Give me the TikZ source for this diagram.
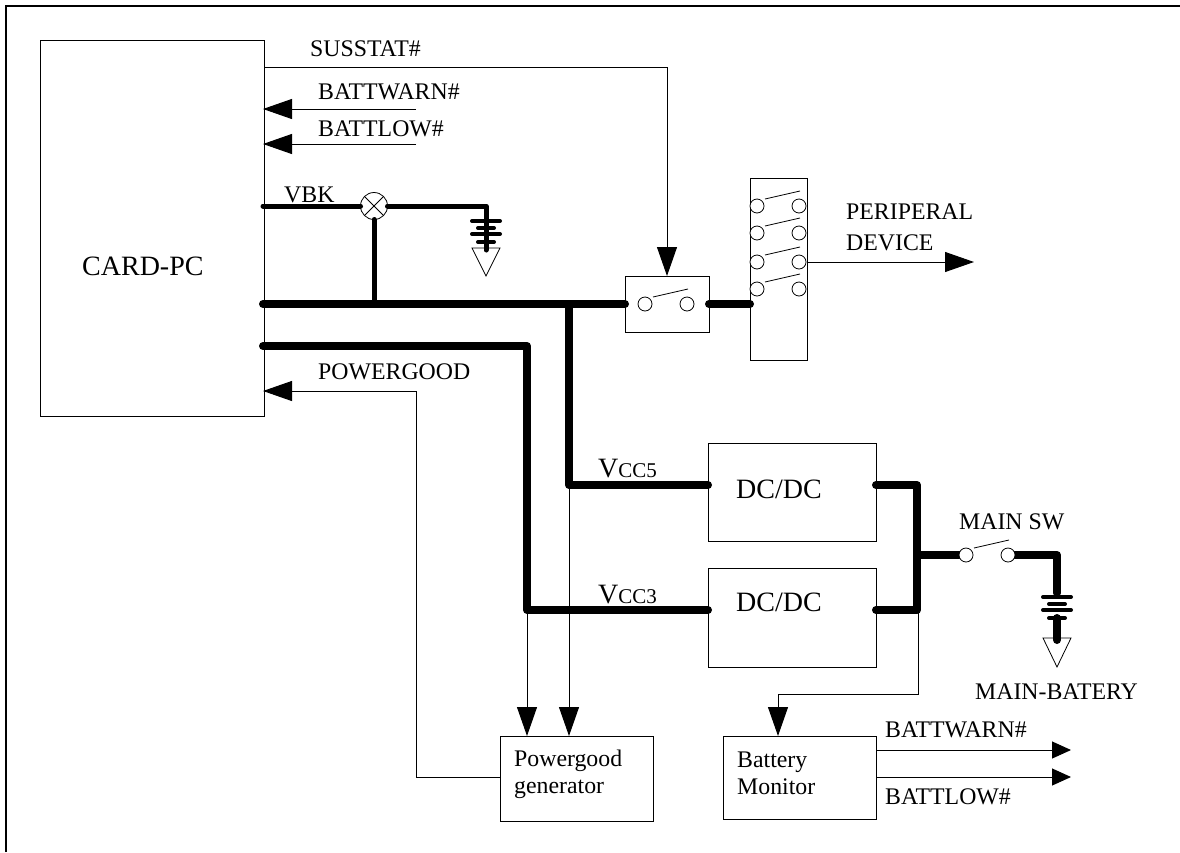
\documentclass[tikz,border=0pt]{standalone}
\usepackage{fontspec}
\setmainfont{Liberation Serif}
\usetikzlibrary{arrows.meta}
\tikzset{
  x=1pt,y=-1pt,
  bus/.style={draw=black,line width=8pt,line cap=round,line join=round},
  mid/.style={draw=black,line width=5pt,line cap=round,line join=round},
  plate/.style={draw=black,line width=4pt,line cap=round},
  blk/.style={draw=black,line width=1pt,fill=white,inner sep=0pt,outer sep=0pt,rectangle},
  ring/.style={circle,draw=black,line width=0.8pt,fill=white,minimum size=14pt,inner sep=0pt,outer sep=0pt},
  lab/.style={inner sep=0pt,anchor=base west,font=\fontsize{23.8}{27.5}\selectfont},
  big/.style={inner sep=0pt,anchor=base west,font=\fontsize{28}{32}\selectfont},
  gnd/.style={draw=black,line width=0.8pt,fill=white},
  arr/.style={draw=black,line width=1pt,-{Triangle[length=29pt,width=20pt]}},
  arrs/.style={draw=black,line width=1pt,-{Triangle[length=19pt,width=17pt]}},
}
\newcommand{\swt}[2]{%
  \node[ring] at (#1,#2) {};
  \node[ring] at (#1+42,#2) {};
  \draw[line width=0.8pt] (#1+8,#2-7) -- (#1+43,#2-15);
}
\begin{document}
\begin{tikzpicture}
\useasboundingbox (0,0) rectangle (1180,852);
\draw[line width=2pt] (6,852) -- (6,5.5) -- (1180,5.5);
% blocks
\node[blk,minimum width=224.5pt,minimum height=376pt] (card) at (152.25,228) {};
\node[big] (cardt) at (82,275) {CARD-PC};
\node[blk,minimum width=84pt,minimum height=56pt] (swbox) at (667,304) {};
\node[blk,minimum width=57pt,minimum height=182pt] (relay) at (778.5,269) {};
\node[blk,minimum width=168pt,minimum height=98pt] (dc1) at (792,492) {};
\node[blk,minimum width=168pt,minimum height=98.5pt] (dc2) at (792,617.75) {};
\node[blk,minimum width=153pt,minimum height=85pt] (pg) at (576.5,778.5) {};
\node[blk,minimum width=153pt,minimum height=83pt] (bm) at (799.5,777.5) {};
\node[big] (dc1t) at (736,498) {DC/DC};
\node[big] (dc2t) at (736,611) {DC/DC};
\node[lab] (pgt) at (514,766) {Powergood};
\node[lab] (pgu) at (514,793) {generator};
\node[lab] (bmt) at (737,767) {Battery};
\node[lab] (bmu) at (737,794) {Monitor};
% named ends
\coordinate (vbk) at (263,206);
\node[circle,draw=black,line width=0.8pt,fill=white,minimum size=27pt,inner sep=0pt,outer sep=0pt] (x) at (374,206) {};
\draw[line width=0.8pt] (x.north west)--(x.south east) (x.north east)--(x.south west);
\coordinate (g1) at (486,206);
\coordinate (g2) at (486,250);
\coordinate (b1) at (263,304);
\coordinate (b2) at (263,346);
\coordinate (j5) at (569,304);
\coordinate (v5) at (569,485);
\coordinate (v3) at (527,610);
\coordinate (c2) at (527,346);
\coordinate (e5) at (708,485);
\coordinate (e3) at (708,610);
\coordinate (o5) at (876,485);
\coordinate (o3) at (876,610);
\coordinate (r5) at (917,485);
\coordinate (r3) at (917,610);
\coordinate (rm) at (917,555);
\coordinate (sw1) at (962,555);
\coordinate (sw2) at (1011,555);
\coordinate (c3) at (1057,555);
\coordinate (c4) at (1057,593);
\coordinate (c5) at (1057,618);
\coordinate (c6) at (1057,640);
% SUSSTAT and alarms
\coordinate (s1) at (264,67);
\coordinate (s2) at (667,67);
\draw[arr] (s1) -- (s2) -- (swbox.north);
\coordinate (bw) at (416,109);
\coordinate (bl) at (416,144);
\coordinate (bwe) at (263,109);
\coordinate (ble) at (263,144);
\draw[arr] (bw) -- (bwe);
\draw[arr] (bl) -- (ble);
\node[lab] (t0) at (310,56) {SUSSTAT\#};
\node[lab] (t1) at (318,99) {BATTWARN\#};
\node[lab] (t2) at (318,136) {BATTLOW\#};
\node[lab] (t3) at (284,202) {VBK};
\node[lab] (t4) at (318,379) {POWERGOOD};
% VBK
\draw[mid] (vbk) -- (x.west);
\draw[mid] (x.east) -- (g1) -- (g2);
\draw[mid] (x.south) -- (374,304);
\draw[plate] (472,221) -- (500,221) (478,228) -- (494,228) (472,234) -- (500,234) (478,242) -- (494,242);
\draw[gnd] (472,248) -- (500,248) -- (486,276) -- cycle;
\draw[mid] (486,242) -- (g2);
% buses
\draw[bus] (b1) -- (swbox.west);
\draw[bus] (j5) -- (v5) -- (e5);
\draw[bus] (b2) -- (c2) -- (v3) -- (e3);
\draw[bus] (swbox.east) -- (relay.west |- swbox.east);
\draw[bus] (o5) -- (r5) -- (r3) -- (o3);
\draw[bus] (rm) -- (sw1);
\draw[bus] (sw2) -- (c3) -- (c4);
\draw[plate] (1043,597) -- (1071,597) (1049,604) -- (1065,604) (1043,610) -- (1071,610) (1049,618) -- (1065,618);
\draw[gnd] (1043,638) -- (1071,638) -- (1057,667) -- cycle;
\draw[bus] (c5) -- (c6);
\node[lab] (t5) at (959,529) {MAIN SW};
\node[lab] (t6) at (975,699) {MAIN-BATERY};
\swt{966}{555}
\node[lab,font=\fontsize{28}{32}\selectfont] (t7) at (598,477) {V\fontsize{21}{24}\selectfont CC5};
\node[lab,font=\fontsize{28}{32}\selectfont] (t8) at (598,603) {V\fontsize{21}{24}\selectfont CC3};
% switches
\swt{645}{304}
\swt{757}{206}
\swt{757}{233}
\swt{757}{262}
\swt{757}{289}
\coordinate (pd) at (807,262);
\coordinate (pde) at (974,262);
\draw[arr] (pd) -- (pde);
\node[lab] (t9) at (846,219) {PERIPERAL};
\node[lab] (t10) at (846,250) {DEVICE};
% feeds
\draw[arr] (v3) -- (v3 |- pg.north);
\draw[arr] (v5) -- (v5 |- pg.north);
% powergood
\coordinate (p1) at (416,777);
\coordinate (p2) at (416,391);
\coordinate (p3) at (263,391);
\draw[arr] (pg.west |- p1) -- (p1) -- (p2) -- (p3);
% battery monitor
\coordinate (m1) at (918,694);
\coordinate (m2) at (778,694);
\draw[arr] (918,610) -- (m1) -- (m2) -- (m2 |- bm.north);
\coordinate (w1) at (876,750);
\coordinate (w2) at (1071,750);
\coordinate (l1) at (876,777);
\coordinate (l2) at (1071,777);
\draw[arrs] (w1) -- (w2);
\draw[arrs] (l1) -- (l2);
\node[lab] (t11) at (885,737) {BATTWARN\#};
\node[lab] (t12) at (885,804) {BATTLOW\#};
\end{tikzpicture}
\end{document}
